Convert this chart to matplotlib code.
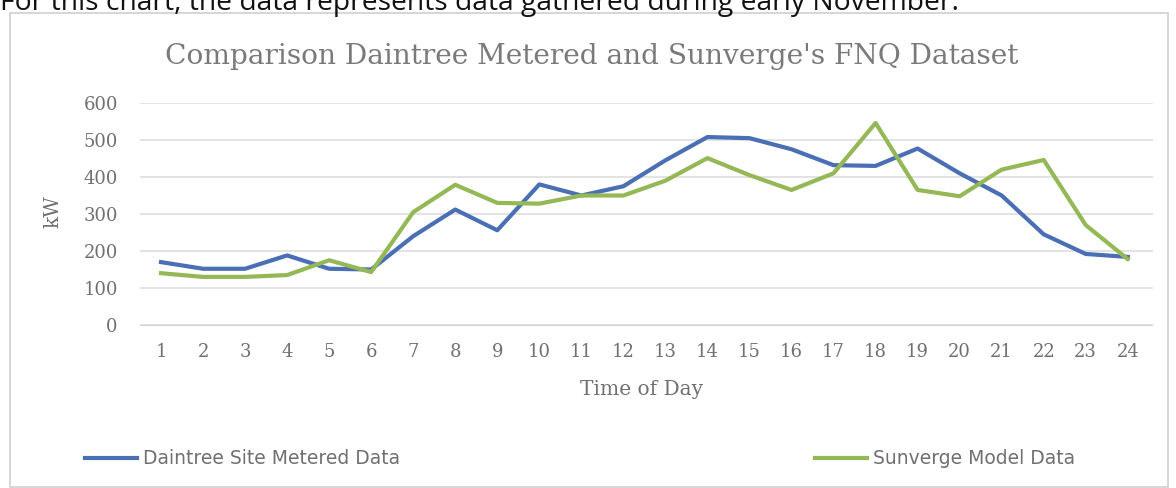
import matplotlib.pyplot as plt
from matplotlib.patches import Rectangle

# данные
hours = list(range(1, 25))
daintree = [170, 152, 152, 188, 152, 150, 240, 312, 256, 380, 350, 375,
            445, 508, 505, 475, 432, 430, 477, 410, 350, 245, 192, 184]
sunverge = [140, 130, 130, 135, 175, 143, 305, 379, 330, 328, 350, 350,
            390, 451, 405, 365, 410, 546, 365, 348, 420, 446, 270, 178]
y_ticks = [0, 100, 200, 300, 400, 500, 600]

blue = '#4a6fb5'
green = '#94b856'
grey_txt = '#707070'
serif = 'DejaVu Serif'

fig = plt.figure(figsize=(11.76, 4.88), dpi=100)

# рамка диаграммы
fig.patches.append(Rectangle((10 / 1176, 0.002), 1158 / 1176, 1 - 14 / 488,
                             transform=fig.transFigure, fill=False,
                             edgecolor='#d0d0d0', linewidth=1.2))

# текст над диаграммой (обрезан сверху, как на исходнике)
fig.text(0.0, 1 - 10 / 488, 'For this chart, the data represents data gathered during early November.',
         fontsize=20.3, family='Open Sans', color='#111111', va='baseline', ha='left')

ax = fig.add_axes([140 / 1176, 1 - 325 / 488, (1153 - 140) / 1176, (325 - 103) / 488])

ax.plot(hours, daintree, color=blue, linewidth=3, solid_joinstyle='round',
        label='Daintree Site Metered Data')
ax.plot(hours, sunverge, color=green, linewidth=3, solid_joinstyle='round',
        label='Sunverge Model Data')

ax.set_xlim(0.5, 24.6)
ax.set_ylim(0, 600)
ax.set_xticks(hours)
ax.set_yticks(y_ticks)
ax.grid(axis='y', color='#dedede', linewidth=1.2)
ax.set_axisbelow(True)
for s in ['top', 'right', 'left']:
    ax.spines[s].set_visible(False)
ax.spines['bottom'].set_color('#d4d4d4')
ax.spines['bottom'].set_linestyle((0, (2, 1)))
ax.tick_params(length=0, labelsize=13, labelcolor=grey_txt)
ax.tick_params(axis='y', pad=16)
ax.tick_params(axis='x', pad=13)
for lbl in ax.get_xticklabels() + ax.get_yticklabels():
    lbl.set_family(serif)

ax.set_xlabel('Time of Day', family=serif, fontsize=14.5, color=grey_txt)
ax.xaxis.set_label_coords(0.4956, -0.248)
ax.set_ylabel('kW', family=serif, fontsize=14.5, color=grey_txt)
ax.yaxis.set_label_coords(-0.077, 0.509)

fig.text(592 / 1176, 1 - 57 / 488, "Comparison Daintree Metered and Sunverge's FNQ Dataset",
         family=serif, fontsize=20.2, color='#7a7a7a', ha='center', va='center')

h = ax.get_lines()
leg1 = fig.legend([h[0]], [h[0].get_label()], loc='center left',
                  bbox_to_anchor=(68 / 1176, 1 - 459 / 488), frameon=False,
                  fontsize=13.5, handlelength=2.8, handletextpad=0.3,
                  labelcolor=grey_txt)
leg2 = fig.legend([h[1]], [h[1].get_label()], loc='center left',
                  bbox_to_anchor=(798 / 1176, 1 - 459 / 488), frameon=False,
                  fontsize=13.5, handlelength=2.8, handletextpad=0.3,
                  labelcolor=grey_txt)

fig.savefig('out.png', dpi=100)
